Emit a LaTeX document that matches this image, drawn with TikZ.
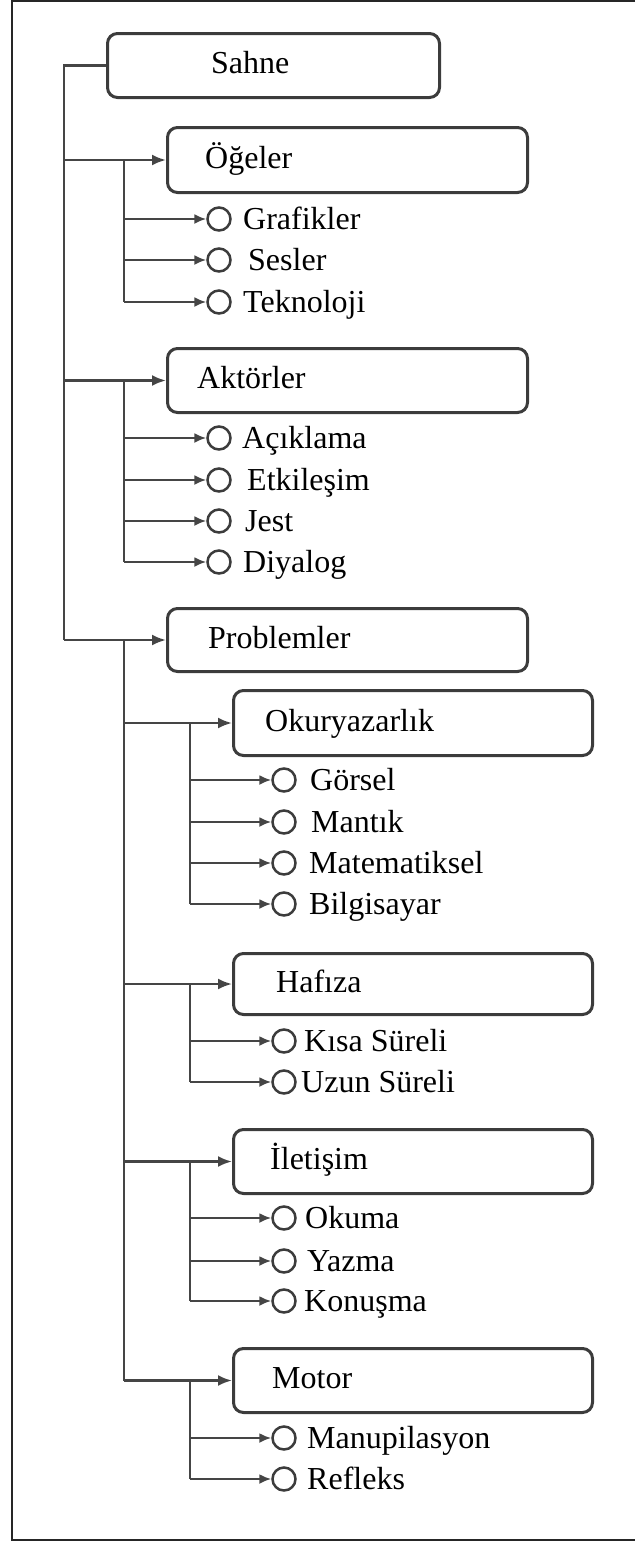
\documentclass[tikz,border=0pt]{standalone}
\usepackage{fontspec}
\setmainfont{Liberation Serif}
\usetikzlibrary{arrows.meta}
\definecolor{boxgray}{HTML}{3C3C3C}
\definecolor{linegray}{HTML}{454545}
% a leaf: open circle plus its label
% #1 name, #2 circle x, #3 y, #4 label x, #5 label
\newcommand\leafitem[5]{%
  \node[dot] (#1) at (#2,#3) {};
  \node[lbl] (#1-t) at ({#4},{#3+10.5}) {#5};
}
\begin{document}
\begin{tikzpicture}[x=1pt,y=-1pt,
  box/.style={draw=boxgray, line width=3pt, rounded corners=10pt, inner sep=0pt, anchor=north west},
  lbl/.style={anchor=base west, inner sep=0pt, font=\fontsize{32}{38}\selectfont},
  dot/.style={circle, draw=boxgray, line width=2.5pt, minimum size=23pt, inner sep=0pt},
  link/.style={draw=linegray, line width=2.4pt},
  arrowlink/.style={link, -{Latex[length=14pt,width=11pt]}},
  itemlink/.style={draw=linegray, line width=2.1pt, -{Latex[length=12pt,width=10pt]}},
]
\useasboundingbox (0,0) rectangle (635,1542);

% frame (open on the right)
\draw[line width=2.2pt, draw=black!85] (635,1) -- (12,1) -- (12,1540) -- (635,1540);

% root
\node[box, minimum width=332pt, minimum height=64pt] (sahne) at (106,32) {};
\node[lbl] (sahne-t) at (211,73.5) {Sahne};

% first level boxes
\node[box, minimum width=360pt, minimum height=65pt] (ogeler) at (166,126) {};
\node[lbl] (ogeler-t) at (205,168) {Öğeler};
\node[box, minimum width=360pt, minimum height=64pt] (aktorler) at (166,347) {};
\node[lbl] (aktorler-t) at (197,388.5) {Aktörler};
\node[box, minimum width=360pt, minimum height=63pt] (problemler) at (166,607) {};
\node[lbl] (problemler-t) at (208,648) {Problemler};

% second level boxes
\node[box, minimum width=359pt, minimum height=65pt] (okur) at (232,689) {};
\node[lbl] (okur-t) at (265,731) {Okuryazarlık};
\node[box, minimum width=359pt, minimum height=61pt] (hafiza) at (232,952) {};
\node[lbl] (hafiza-t) at (276,992) {Hafıza};
\node[box, minimum width=359pt, minimum height=64pt] (iletisim) at (232,1128) {};
\node[lbl] (iletisim-t) at (270,1169.5) {İletişim};
\node[box, minimum width=359pt, minimum height=64pt] (motor) at (232,1347) {};
\node[lbl] (motor-t) at (272,1388.5) {Motor};

% leaves
\leafitem{grafikler}{219}{219}{243}{Grafikler}
\leafitem{sesler}{219}{260}{248}{Sesler}
\leafitem{teknoloji}{219}{302}{243}{Teknoloji}
\leafitem{aciklama}{219}{438}{242}{Açıklama}
\leafitem{etkilesim}{219}{480}{247}{Etkileşim}
\leafitem{jest}{219}{521}{245}{Jest}
\leafitem{diyalog}{219}{562}{243}{Diyalog}
\leafitem{gorsel}{284}{780}{310}{Görsel}
\leafitem{mantik}{284}{822}{311}{Mantık}
\leafitem{matematiksel}{284}{863}{309}{Matematiksel}
\leafitem{bilgisayar}{284}{904}{309}{Bilgisayar}
\leafitem{kisa}{284}{1041}{304}{Kısa Süreli}
\leafitem{uzun}{284}{1082}{301}{Uzun Süreli}
\leafitem{okuma}{284}{1218}{305}{Okuma}
\leafitem{yazma}{284}{1261}{307}{Yazma}
\leafitem{konusma}{284}{1301}{304}{Konuşma}
\leafitem{manupilasyon}{284}{1438}{307}{Manupilasyon}
\leafitem{refleks}{284}{1479}{307}{Refleks}

% trunk lines
\coordinate (t) at (64,0);
\coordinate (s) at (124,0);
\coordinate (q) at (190,0);

\draw[link] (sahne.west) -- (t |- sahne) -- (t |- problemler);
\foreach \b in {ogeler,aktorler,problemler}
  \draw[arrowlink] (t |- \b) -- (\b.west);

% first level branches
\draw[link] (s |- ogeler) -- (s |- teknoloji);
\foreach \i in {grafikler,sesler,teknoloji}
  \draw[itemlink] (s |- \i) -- (\i.west);
\draw[link] (s |- aktorler) -- (s |- diyalog);
\foreach \i in {aciklama,etkilesim,jest,diyalog}
  \draw[itemlink] (s |- \i) -- (\i.west);

% problem branches
\draw[link] (s |- problemler) -- (s |- motor);
\foreach \b in {okur,hafiza,iletisim,motor}
  \draw[arrowlink] (s |- \b) -- (\b.west);

\draw[link] (q |- okur) -- (q |- bilgisayar);
\foreach \i in {gorsel,mantik,matematiksel,bilgisayar}
  \draw[itemlink] (q |- \i) -- (\i.west);
\draw[link] (q |- hafiza) -- (q |- uzun);
\foreach \i in {kisa,uzun}
  \draw[itemlink] (q |- \i) -- (\i.west);
\draw[link] (q |- iletisim) -- (q |- konusma);
\foreach \i in {okuma,yazma,konusma}
  \draw[itemlink] (q |- \i) -- (\i.west);
\draw[link] (q |- motor) -- (q |- refleks);
\foreach \i in {manupilasyon,refleks}
  \draw[itemlink] (q |- \i) -- (\i.west);
\end{tikzpicture}
\end{document}
